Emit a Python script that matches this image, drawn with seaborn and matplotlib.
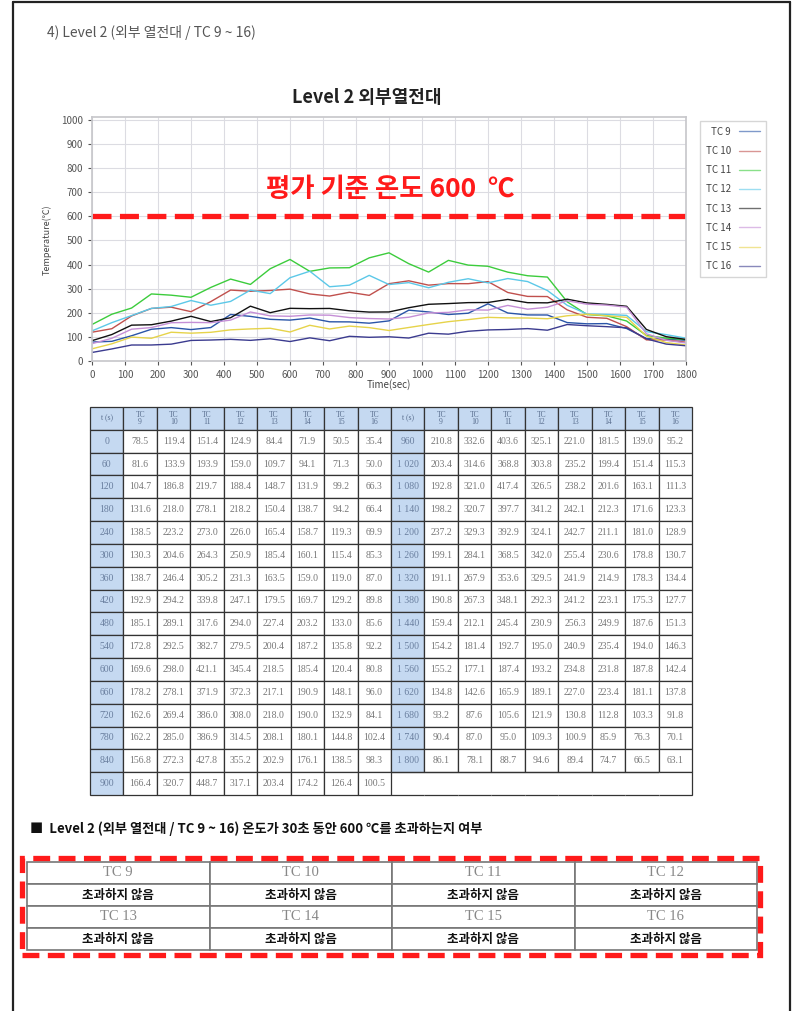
import numpy as np
import pandas as pd
import matplotlib
matplotlib.use("Agg")
import matplotlib.pyplot as plt
import seaborn as sns
from matplotlib.lines import Line2D
from matplotlib.patches import Rectangle

# time (s) and measured temperature of each thermocouple
time = [0, 60, 120, 180, 240, 300, 360, 420, 480, 540, 600, 660, 720, 780, 840, 900,
        960, 1020, 1080, 1140, 1200, 1260, 1320, 1380, 1440, 1500, 1560, 1620, 1680, 1740, 1800]
tc9 = [78.5, 81.6, 104.7, 131.6, 138.5, 130.3, 138.7, 192.9, 185.1, 172.8, 169.6, 178.2, 162.6, 162.2, 156.8, 166.4,
       210.8, 203.4, 192.8, 198.2, 237.2, 199.1, 191.1, 190.8, 159.4, 154.2, 155.2, 134.8, 93.2, 90.4, 86.1]
tc10 = [119.4, 133.9, 186.8, 218.0, 223.2, 204.6, 246.4, 294.2, 289.1, 292.5, 298.0, 278.1, 269.4, 285.0, 272.3, 320.7,
        332.6, 314.6, 321.0, 320.7, 329.3, 284.1, 267.9, 267.3, 212.1, 181.4, 177.1, 142.6, 87.6, 87.0, 78.1]
tc11 = [151.4, 193.9, 219.7, 278.1, 273.0, 264.3, 305.2, 339.8, 317.6, 382.7, 421.1, 371.9, 386.0, 386.9, 427.8, 448.7,
        403.6, 368.8, 417.4, 397.7, 392.9, 368.5, 353.6, 348.1, 245.4, 192.7, 187.4, 165.9, 105.6, 95.0, 88.7]
tc12 = [124.9, 159.0, 188.4, 218.2, 226.0, 250.9, 231.3, 247.1, 294.0, 279.5, 345.4, 372.3, 308.0, 314.5, 355.2, 317.1,
        325.1, 303.8, 326.5, 341.2, 324.1, 342.0, 329.5, 292.3, 230.9, 195.0, 193.2, 189.1, 121.9, 109.3, 94.6]
tc13 = [84.4, 109.7, 148.7, 150.4, 165.4, 185.4, 163.5, 179.5, 227.4, 200.4, 218.5, 217.1, 218.0, 208.1, 202.9, 203.4,
        221.0, 235.2, 238.2, 242.1, 242.7, 255.4, 241.9, 241.2, 256.3, 240.9, 234.8, 227.0, 130.8, 100.9, 89.4]
tc14 = [71.9, 94.1, 131.9, 138.7, 158.7, 160.1, 159.0, 169.7, 203.2, 187.2, 185.4, 190.9, 190.0, 180.1, 176.1, 174.2,
        181.5, 199.4, 201.6, 212.3, 211.1, 230.6, 214.9, 223.1, 249.9, 235.4, 231.8, 223.4, 112.8, 85.9, 74.7]
tc15 = [50.5, 71.3, 99.2, 94.2, 119.3, 115.4, 119.0, 129.2, 133.0, 135.8, 120.4, 148.1, 132.9, 144.8, 138.5, 126.4,
        139.0, 151.4, 163.1, 171.6, 181.0, 178.8, 178.3, 175.3, 187.6, 194.0, 187.8, 181.1, 103.3, 76.3, 66.5]
tc16 = [35.4, 50.0, 66.3, 66.4, 69.9, 85.3, 87.0, 89.8, 85.6, 92.2, 80.8, 96.0, 84.1, 102.4, 98.3, 100.5,
        95.2, 115.3, 111.3, 123.3, 128.9, 130.7, 134.4, 127.7, 151.3, 146.3, 142.4, 137.8, 91.8, 70.1, 63.1]

tc_names = ['TC 9', 'TC 10', 'TC 11', 'TC 12', 'TC 13', 'TC 14', 'TC 15', 'TC 16']
line_colors = ['#2a55a8', '#c0504d', '#3ccc3c', '#5cc8e8', '#111111', '#c58fd6', '#e6d34a', '#3b3b8f']
exceed = ['초과하지 않음'] * 8

series = [tc9, tc10, tc11, tc12, tc13, tc14, tc15, tc16]

sns.set_theme(style="white")
plt.rcParams['font.family'] = ['Noto Sans CJK KR', 'DejaVu Sans']

W, H = 792, 1011
fig = plt.figure(figsize=(W / 100, H / 100), dpi=100)


def box(x0, y0, x1, y1):
    return [x0 / W, 1 - y1 / H, (x1 - x0) / W, (y1 - y0) / H]


# page frame
for xs, ys in [([13, 13], [2, H]), ([790, 790], [2, H]), ([13, 790], [2, 2])]:
    fig.add_artist(Line2D([x / W for x in xs], [1 - y / H for y in ys],
                          transform=fig.transFigure, color='#222', lw=1.6))

fig.text(47 / W, 1 - 33 / H, '4) Level 2 (외부 열전대 / TC 9 ~ 16)', fontsize=10, color='#555', va='center')

# line chart
ax = fig.add_axes(box(92, 117, 686, 361))
df = pd.DataFrame({'time': time})
for name, s in zip(tc_names, series):
    df[name] = s
df = df.melt(id_vars='time', var_name='TC', value_name='temp')
sns.lineplot(data=df, x='time', y='temp', hue='TC', palette=dict(zip(tc_names, line_colors)),
             lw=1.0, ax=ax, legend=False)
ax.set_xlim(0, 1800)
ax.set_ylim(0, 1012)
ax.set_xticks(range(0, 1801, 100))
ax.set_yticks(range(0, 1001, 100))
ax.grid(True, color='#dcdce2', lw=0.8)
for sp in ax.spines.values():
    sp.set_color('#c8c8cc')
ax.tick_params(left=True, bottom=True, labelsize=7, colors='#555', length=3, width=0.8)
ax.set_xlabel('')
ax.set_ylabel('')

ax.axhline(600, color='#ff1a1a', lw=3.8, dashes=(3.6, 1.6))
ax.text(903, 712, '평가 기준 온도 600  ℃', ha='center', va='center', color='#ff1a1a',
        fontsize=19, fontweight='bold')

fig.text(367 / W, 1 - 98 / H, 'Level 2 외부열전대', ha='center', va='center', fontsize=13,
         fontweight='bold', color='#222')
fig.text(47 / W, 1 - 240 / H, 'Temperature(℃)', rotation=90, ha='center', va='center',
         fontsize=6.5, color='#444')
fig.text(389 / W, 1 - 385 / H, 'Time(sec)', ha='center', va='center', fontsize=7, color='#444')

handles = [Line2D([], [], color=c, lw=1.0, alpha=0.6) for c in line_colors]
fig.legend(handles, tc_names, loc='upper left', bbox_to_anchor=(695 / W, 1 - 116 / H),
           markerfirst=False, fontsize=7, frameon=True, fancybox=False, edgecolor='#cccccc',
           handlelength=2.2, labelspacing=0.95, borderpad=0.6, labelcolor='#444')

# data table
tax = fig.add_axes(box(90, 407, 692, 795))
tax.axis('off')
header = ['t (s)'] + ['TC\n' + n.split()[1] for n in tc_names]
header = header + header


def fmt_t(t):
    return f'{t:,}'.replace(',', ' ')


rows = []
for i in range(16):
    row = [fmt_t(time[i])] + [f'{s[i]:.1f}' for s in series]
    j = i + 16
    if j < len(time):
        row += [fmt_t(time[j])] + [f'{s[j]:.1f}' for s in series]
    else:
        row += [''] * 9
    rows.append(row)

tbl = tax.table(cellText=rows, colLabels=header, bbox=[0, 0, 1, 1], cellLoc='center')
tbl.auto_set_font_size(False)
tbl.set_fontsize(7)
for (r, c), cell in tbl.get_celld().items():
    cell.set_edgecolor('#333')
    cell.set_linewidth(0.9)
    txt = cell.get_text()
    txt.set_color('#777')
    txt.set_fontfamily('Liberation Serif')
    if r == 0:
        cell.set_facecolor('#c5d9f1')
        txt.set_fontsize(5.5)
        txt.set_color('#5a6f8f')
        txt.set_linespacing(0.9)
    elif c in (0, 9) and not (r == 16 and c == 9):
        cell.set_facecolor('#c5d9f1')
        txt.set_color('#6a7f9f')
    if r == 16 and c >= 9:
        cell.visible_edges = 'TB' if c < 17 else 'TBR'

fig.text(30 / W, 1 - 829 / H, '■  Level 2 (외부 열전대 / TC 9 ~ 16) 온도가 30초 동안 600 ℃를 초과하는지 여부',
         fontsize=9.5, fontweight='bold', va='center', color='#111')

# result table
rax = fig.add_axes(box(27, 862, 757, 950))
rax.axis('off')
res_rows = [tc_names[0:4], exceed[0:4], tc_names[4:8], exceed[4:8]]
rtbl = rax.table(cellText=res_rows, bbox=[0, 0, 1, 1], cellLoc='center')
rtbl.auto_set_font_size(False)
for (r, c), cell in rtbl.get_celld().items():
    cell.set_edgecolor('#777')
    cell.set_linewidth(1.2)
    txt = cell.get_text()
    if r % 2 == 0:
        txt.set_fontfamily('Liberation Serif')
        txt.set_fontsize(10.5)
        txt.set_color('#888')
    else:
        txt.set_fontsize(9)
        txt.set_fontweight('bold')
        txt.set_color('#111')

fig.add_artist(Rectangle((22 / W, 1 - 955 / H), (760 - 22) / W, (955 - 858) / H,
                         transform=fig.transFigure, fill=False, ec='#ff1a1a', lw=3.8,
                         linestyle=(0, (3.2, 1.6))))

fig.savefig('out.png', dpi=100)
